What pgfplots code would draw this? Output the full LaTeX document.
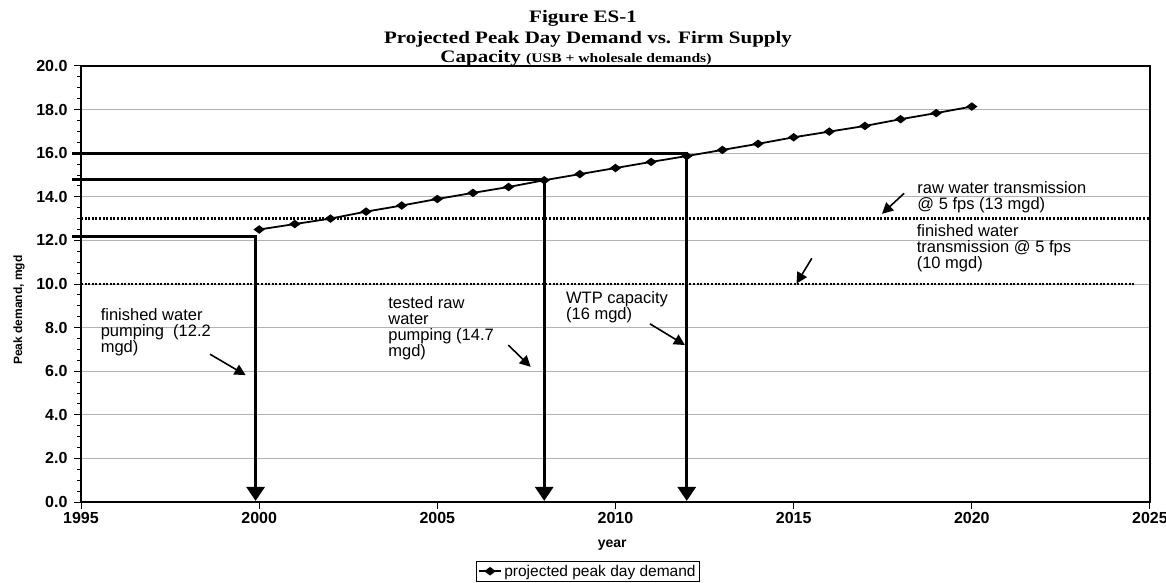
\documentclass[border=0pt]{standalone}
\usepackage{fontspec}
\setmainfont{Liberation Sans}
\newfontfamily\titlefont{Liberation Serif}
\usepackage{graphicx}
\usepackage{pgfplots}
\usepackage{pgfplotstable}
\pgfplotsset{compat=1.18}
\usetikzlibrary{arrows.meta}

\pgfplotstableread{
year demand
2000 12.50
2001 12.75
2002 13.00
2003 13.32
2004 13.60
2005 13.90
2006 14.18
2007 14.45
2008 14.76
2009 15.04
2010 15.32
2011 15.60
2012 15.87
2013 16.15
2014 16.43
2015 16.73
2016 16.99
2017 17.25
2018 17.56
2019 17.84
2020 18.14
}\demand

\newcommand{\annfont}{\fontsize{16.5}{16}\selectfont}

\begin{document}
\begin{tikzpicture}[x=1pt,y=1pt]
\path[use as bounding box] (0,0) rectangle (1166,582);
\begin{axis}[
  at={(81pt,80pt)}, anchor=south west,
  scale only axis, width=1069pt, height=436pt,
  xmin=1995, xmax=2025, ymin=0, ymax=20,
  xtick={1995,2000,...,2025}, ytick={0,2,...,20},
  minor y tick num=3,
  xtick pos=bottom, ytick pos=left,
  tick align=outside,
  major tick length=7pt, minor tick length=4pt,
  tick style={black, line width=1pt},
  ymajorgrids, major grid style={gray!60, line width=0.8pt},
  axis line style={line width=1.2pt},
  clip=false,
  tick label style={font=\fontsize{16}{18}\selectfont\bfseries},
  /pgf/number format/assume math mode=true,
  xticklabel style={/pgf/number format/1000 sep={}},
  yticklabel style={xshift=-3pt, /pgf/number format/.cd, fixed, fixed zerofill, precision=1},
  xlabel={year},
  xlabel style={font=\fontsize{14}{16}\selectfont\bfseries, at={(axis description cs:0.497,-0.099)}, anchor=center},
  ylabel={Peak demand, mgd},
  ylabel style={font=\fontsize{12}{14}\selectfont\bfseries, at={(axis description cs:-0.058,0.44)}, anchor=center},
  legend style={at={(axis description cs:0.474,-0.135)}, anchor=north, draw=black, line width=1pt,
    font=\fontsize{15.5}{17}\selectfont, inner sep=1.5pt, row sep=0pt},
  legend cell align=left,
  legend image code/.code={\draw[mark repeat=2,mark phase=2] plot coordinates {(0cm,0cm) (0.4cm,0cm) (0.8cm,0cm)};},
]
% projected demand
\addplot[black, line width=1.8pt, mark=diamond*, mark size=4.2pt, mark options={rotate=90, solid}]
  table[x=year, y=demand] {\demand};
\addlegendentry{projected peak day demand}

% supply capacities (thick lines with arrows)
\addplot[forget plot, black, line width=3pt, line join=miter, -{Triangle[width=18pt,length=14pt]}]
  coordinates {(1994.75,12.2) (1999.9,12.2) (1999.9,0.05)};
\addplot[forget plot, black, line width=3pt, line join=miter, -{Triangle[width=18pt,length=14pt]}]
  coordinates {(1994.75,14.8) (2008,14.8) (2008,0.05)};
\addplot[forget plot, black, line width=3pt, line join=miter, -{Triangle[width=18pt,length=14pt]}]
  coordinates {(1994.75,16) (2012,16) (2012,0.05)};

% transmission limits (dotted)
\addplot[forget plot, black, line width=2.3pt, dash pattern=on 2pt off 1.6pt]
  coordinates {(1995,13) (2025,13)};
\addplot[forget plot, black, line width=2.3pt, dash pattern=on 2pt off 1.6pt]
  coordinates {(1995,10) (2024.6,10)};

% annotations
\node[anchor=north west, inner sep=0pt, align=left, font=\annfont] at (axis cs:1995.55,8.87)
  {finished water\\pumping\ \ (12.2\\mgd)};
\draw[line width=1.6pt, -{Triangle[width=11pt,length=11pt]}] (axis cs:1998.62,6.78) -- (axis cs:1999.62,5.82);

\node[anchor=north west, inner sep=0pt, align=left, font=\annfont] at (axis cs:2003.62,9.45)
  {tested raw\\water\\pumping (14.7\\mgd)};
\draw[line width=1.6pt, -{Triangle[width=11pt,length=11pt]}] (axis cs:2006.99,7.20) -- (axis cs:2007.62,6.20);

\node[anchor=north west, inner sep=0pt, align=left, font=\annfont] at (axis cs:2008.61,9.68)
  {WTP capacity\\(16 mgd)};
\draw[line width=1.6pt, -{Triangle[width=11pt,length=11pt]}] (axis cs:2010.97,8.17) -- (axis cs:2011.95,7.20);

\node[anchor=north west, inner sep=0pt, align=left, font=\annfont] at (axis cs:2018.47,14.71)
  {raw water transmission\\@ 5 fps (13 mgd)};
\draw[line width=1.6pt, -{Triangle[width=11pt,length=11pt]}] (axis cs:2018.10,14.16) -- (axis cs:2017.48,13.22);

\node[anchor=north west, inner sep=0pt, align=left, font=\annfont] at (axis cs:2018.45,12.75)
  {finished water\\transmission @ 5 fps\\(10 mgd)};
\draw[line width=1.6pt, -{Triangle[width=11pt,length=11pt]}] (axis cs:2015.51,11.18) -- (axis cs:2015.08,10.02);
\end{axis}

% title
\node[anchor=base, inner sep=0pt, font=\fontsize{17.5}{20}\selectfont\titlefont\bfseries] at (583,559)
  {\scalebox{1.2}[1]{Figure ES-1}};
\node[anchor=base, inner sep=0pt, font=\fontsize{17.5}{20}\selectfont\titlefont\bfseries] at (588,538)
  {\scalebox{1.2}[1]{Projected Peak Day Demand vs. Firm Supply}};
\node[anchor=base, inner sep=0pt, font=\fontsize{17.5}{20}\selectfont\titlefont\bfseries] at (576,519)
  {\scalebox{1.2}[1]{Capacity {\fontsize{13}{15}\selectfont(USB + wholesale demands)}}};
\end{tikzpicture}
\end{document}
